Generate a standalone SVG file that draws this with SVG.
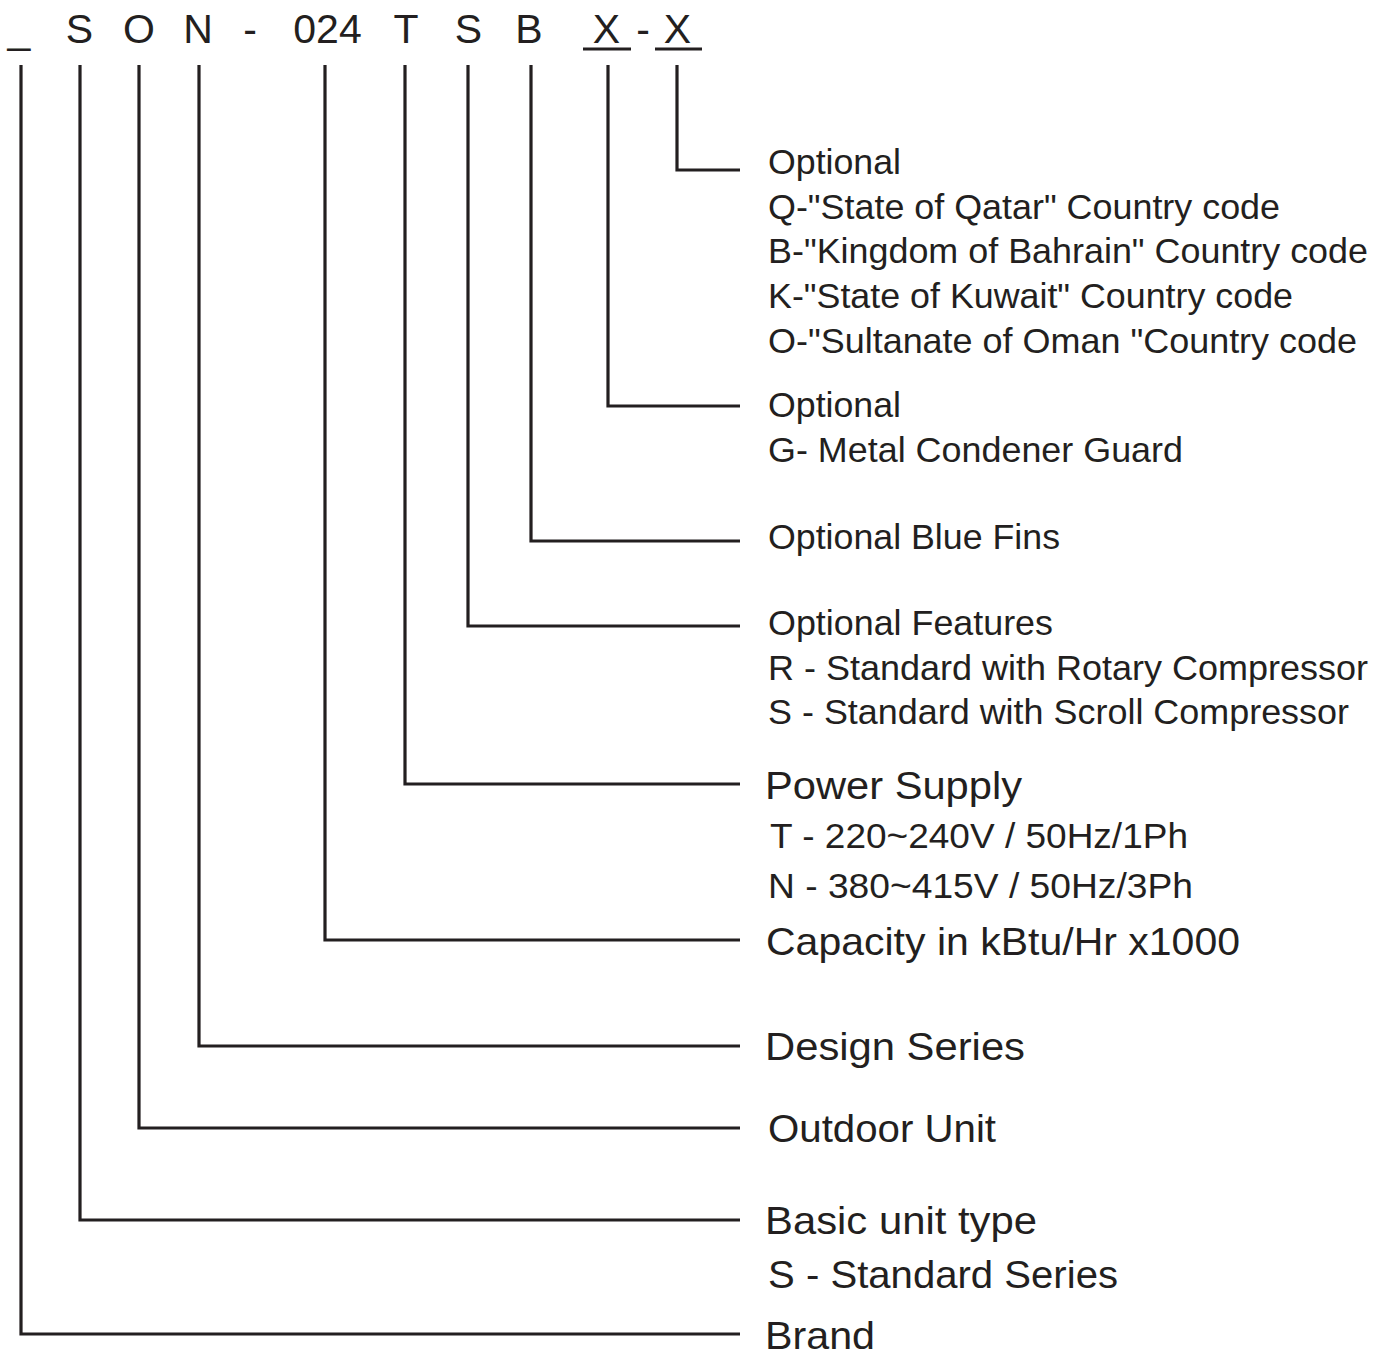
<svg xmlns="http://www.w3.org/2000/svg" width="1387" height="1356" viewBox="0 0 1387 1356">
<style>
.hd{font-family:"Liberation Sans",Arial,sans-serif;font-size:41px;fill:#231f20;text-anchor:middle}
.s{font-family:"Liberation Sans",Arial,sans-serif;font-size:35px;fill:#231f20}
.b{font-family:"Liberation Sans",Arial,sans-serif;font-size:39px;fill:#231f20}
.ln{fill:none;stroke:#231f20;stroke-width:3.2}
</style>
<rect width="1387" height="1356" fill="#ffffff"/>
<g id="header">
<text class="hd" x="19" y="43">_</text>
<text class="hd" x="79.5" y="43">S</text>
<text class="hd" x="139" y="43">O</text>
<text class="hd" x="198" y="43">N</text>
<text class="hd" x="250" y="43">-</text>
<text class="hd" x="327.5" y="43">024</text>
<text class="hd" x="406" y="43">T</text>
<text class="hd" x="468.5" y="43">S</text>
<text class="hd" x="529" y="43">B</text>
<text class="hd" x="606.5" y="43">X</text>
<text class="hd" x="643" y="43">-</text>
<text class="hd" x="677.5" y="43">X</text>
<line class="ln" x1="583" y1="49" x2="631" y2="49"/>
<line class="ln" x1="655" y1="49" x2="702" y2="49"/>
</g>
<g id="connectors">
<polyline class="ln" points="677,65 677,170 740,170"/>
<polyline class="ln" points="608,65 608,406 740,406"/>
<polyline class="ln" points="531,65 531,541 740,541"/>
<polyline class="ln" points="468,65 468,626 740,626"/>
<polyline class="ln" points="405,65 405,784 740,784"/>
<polyline class="ln" points="325,65 325,940 740,940"/>
<polyline class="ln" points="199,65 199,1046 740,1046"/>
<polyline class="ln" points="139,65 139,1128 740,1128"/>
<polyline class="ln" points="80,65 80,1220 740,1220"/>
<polyline class="ln" points="21,65 21,1334 740,1334"/>
</g>
<g id="node-country">
<text class="s" x="768" y="174" textLength="133" lengthAdjust="spacingAndGlyphs">Optional</text>
<text class="s" x="768" y="219" textLength="512" lengthAdjust="spacingAndGlyphs">Q-"State of Qatar" Country code</text>
<text class="s" x="768" y="263" textLength="600" lengthAdjust="spacingAndGlyphs">B-"Kingdom of Bahrain" Country code</text>
<text class="s" x="768" y="308" textLength="525" lengthAdjust="spacingAndGlyphs">K-"State of Kuwait" Country code</text>
<text class="s" x="768" y="353" textLength="589" lengthAdjust="spacingAndGlyphs">O-"Sultanate of Oman "Country code</text>
</g>
<g id="node-guard">
<text class="s" x="768" y="417" textLength="133" lengthAdjust="spacingAndGlyphs">Optional</text>
<text class="s" x="768" y="462" textLength="415" lengthAdjust="spacingAndGlyphs">G- Metal Condener Guard</text>
</g>
<g id="node-fins">
<text class="s" x="768" y="549" textLength="292" lengthAdjust="spacingAndGlyphs">Optional Blue Fins</text>
</g>
<g id="node-features">
<text class="s" x="768" y="635" textLength="285" lengthAdjust="spacingAndGlyphs">Optional Features</text>
<text class="s" x="768" y="680" textLength="600" lengthAdjust="spacingAndGlyphs">R - Standard with Rotary Compressor</text>
<text class="s" x="768" y="724" textLength="581" lengthAdjust="spacingAndGlyphs">S - Standard with Scroll Compressor</text>
</g>
<g id="node-power">
<text class="b" x="765" y="799" textLength="257" lengthAdjust="spacingAndGlyphs">Power Supply</text>
<text class="s" x="770" y="848" textLength="418" lengthAdjust="spacingAndGlyphs">T - 220~240V / 50Hz/1Ph</text>
<text class="s" x="768" y="898" textLength="425" lengthAdjust="spacingAndGlyphs">N - 380~415V / 50Hz/3Ph</text>
</g>
<g id="node-capacity">
<text class="b" x="766" y="955" textLength="474" lengthAdjust="spacingAndGlyphs">Capacity in kBtu/Hr x1000</text>
</g>
<g id="node-design">
<text class="b" x="765" y="1060" textLength="260" lengthAdjust="spacingAndGlyphs">Design Series</text>
</g>
<g id="node-outdoor">
<text class="b" x="768" y="1142" textLength="228" lengthAdjust="spacingAndGlyphs">Outdoor Unit</text>
</g>
<g id="node-basic">
<text class="b" x="765" y="1234" textLength="272" lengthAdjust="spacingAndGlyphs">Basic unit type</text>
<text class="b" x="768" y="1288" textLength="350" lengthAdjust="spacingAndGlyphs">S - Standard Series</text>
</g>
<g id="node-brand">
<text class="b" x="765" y="1349" textLength="110" lengthAdjust="spacingAndGlyphs">Brand</text>
</g>
</svg>
